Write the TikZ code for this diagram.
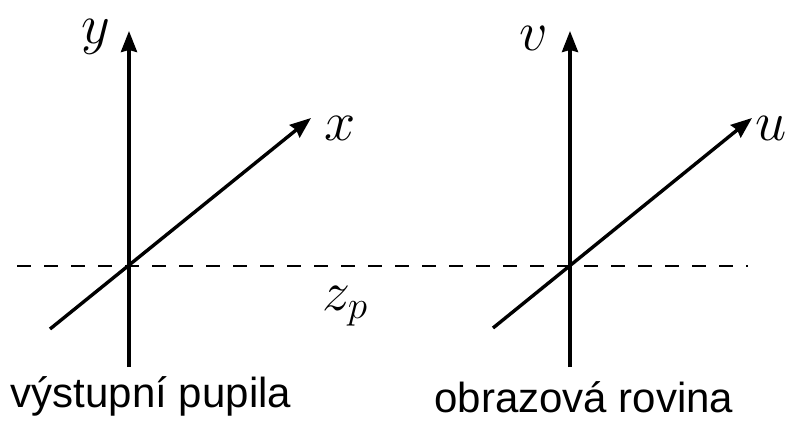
\RequirePackage{fix-cm}
\documentclass[tikz,border=0pt]{standalone}
\usepackage{fontspec}
\setsansfont{Liberation Sans}
\usetikzlibrary{arrows.meta}
\begin{document}
\begin{tikzpicture}[x=1pt,y=-1pt,
  axis/.style={line width=3.4pt,-{Stealth[length=21pt,width=16pt,inset=2pt]}},
  guide/.style={line width=2.6pt,dash pattern=on 14pt off 13pt},
  mlabel/.style={inner sep=0pt,font=\fontsize{56}{60}\selectfont},
  tlabel/.style={inner sep=0pt,anchor=base,font=\sffamily\fontsize{42}{50}\selectfont}]
\useasboundingbox (0,0) rectangle (794,420);
% left system
\coordinate (ly0) at (129,367);
\coordinate (ly1) at (129,31);
\coordinate (lx0) at (50,329);
\coordinate (lx1) at (311,118);
% right system
\coordinate (rv0) at (570,367);
\coordinate (rv1) at (570,31);
\coordinate (ru0) at (493,328);
\coordinate (ru1) at (752,118);
% dashed line
\coordinate (d0) at (17,266);
\coordinate (d1) at (748,266);
\draw[guide] (d0) -- (d1);
\draw[axis] (ly0) -- (ly1);
\draw[axis] (lx0) -- (lx1);
\draw[axis] (rv0) -- (rv1);
\draw[axis] (ru0) -- (ru1);
\node[mlabel] (ylab) at (96,37) {$y$};
\node[mlabel] (xlab) at (340,128) {$x$};
\node[mlabel] (vlab) at (534,38) {$v$};
\node[mlabel] (ulab) at (771,128) {$u$};
\node[mlabel] (zlab) at (345,306) {$z_p$};
\node[tlabel] (t1) at (151,407) {výstupní pupila};
\node[tlabel] (t2) at (584,412) {obrazová rovina};
\end{tikzpicture}
\end{document}
